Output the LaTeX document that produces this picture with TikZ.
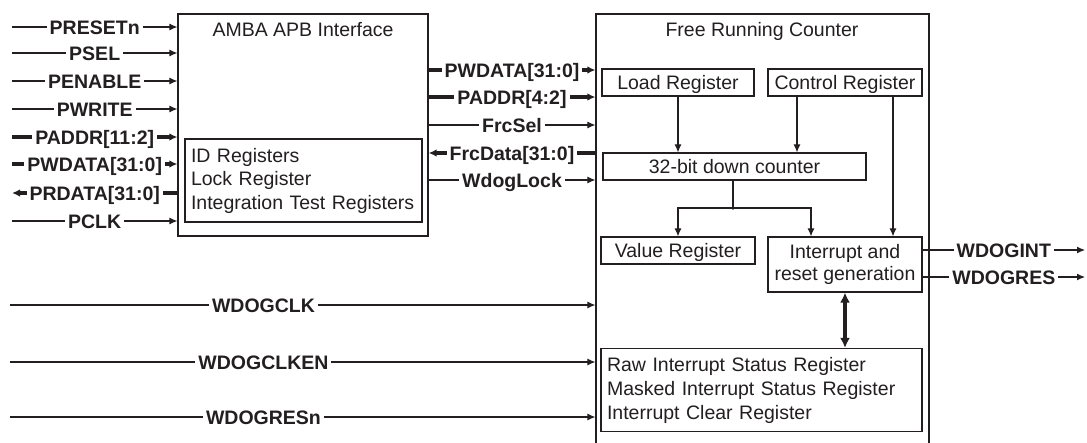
\documentclass[tikz,border=0pt]{standalone}
\usepackage{fontspec}
\setmainfont{Liberation Sans}
\usetikzlibrary{arrows.meta,calc}
\definecolor{ink}{HTML}{231F20}
\begin{document}
\begin{tikzpicture}[x=1pt,y=-1pt,
  font=\fontsize{19.5}{23.5}\selectfont, text=ink,
  box/.style={draw=ink, line width=1.2pt, inner sep=0pt},
  txt/.style={inner sep=0pt, text height=14pt, text depth=0pt},
  lbl/.style={fill=white, font=\fontsize{19.5}{23.5}\selectfont\bfseries, inner xsep=3pt, inner ysep=1pt, text height=14pt, text depth=0pt},
  ln/.style={draw=ink, line width=1.1pt},
  sig/.style={ln, -{Latex[length=8pt,width=7pt]}},
  bus/.style={draw=ink, line width=3.2pt, -{Latex[length=8pt,width=7.5pt]}},
  dbl/.style={draw=ink, line width=3.2pt, {Latex[length=10pt,width=10pt]}-{Latex[length=10pt,width=10pt]}}
]
\useasboundingbox (0,0) rectangle (1087,442);
\fill[white] (0,0) rectangle (1087,442);
\clip (0,0) rectangle (1087,442);

% ---- AMBA APB interface
\node[box, minimum width=250pt, minimum height=222pt] (apb) at (303,125) {};
\node[txt] (apbt) at (303,29) {AMBA APB Interface};
\node[box, minimum width=237pt, minimum height=83pt, text width=225pt, align=left, inner xsep=6pt,
      font=\fontsize{19.5}{23.5}\selectfont] (idr) at (303.5,180.5)
  {ID Registers\\Lock Register\\Integration Test Registers};

% ---- Free running counter
\node[box, minimum width=333pt, minimum height=446pt] (frc) at (762.5,237) {};
\node[txt] (frct) at (762,29) {Free Running Counter};
\node[box, txt, minimum width=152pt, minimum height=27pt] (load) at (678,82.5) {Load Register};
\node[box, txt, minimum width=154pt, minimum height=27pt] (ctrl) at (845,82.5) {Control Register};
\node[box, txt, minimum width=263pt, minimum height=27pt] (cnt) at (734.5,166.5) {32-bit down counter};
\node[box, txt, minimum width=154pt, minimum height=27pt] (val) at (678,250.5) {Value Register};
\node[box, minimum width=154pt, minimum height=55pt, align=center,
      font=\fontsize{19.5}{22}\selectfont] (intr) at (845,264.5) {Interrupt and\\reset generation};
\node[box, minimum width=321pt, minimum height=83pt, text width=309pt, align=left, inner xsep=6pt,
      font=\fontsize{19.5}{24}\selectfont] (bot) at (761.5,390)
  {Raw Interrupt Status Register\\Masked Interrupt Status Register\\Interrupt Clear Register};

% ---- internal connections
\coordinate (xa) at (797,0);
\coordinate (xb) at (893,0);
\coordinate (xc) at (811,0);
\coordinate (jn) at (733,208);
\draw[sig] (load.south) -- (load.south |- cnt.north);
\draw[sig] (ctrl.south -| xa) -- (cnt.north -| xa);
\draw[sig] (ctrl.south -| xb) -- (intr.north -| xb);
\draw[ln] (cnt.south -| jn) -- (jn);
\draw[sig] (jn) -| (val.north);
\draw[sig] (jn) -| (intr.north -| xc);
\fill[ink] (jn) circle (1.8pt);
\draw[dbl] (intr.south) -- (intr.south |- bot.north);

% ---- left signals
\coordinate (l1) at (12,27);
\coordinate (l2) at (12,53);
\coordinate (l3) at (12,81);
\coordinate (l4) at (12,109);
\coordinate (l5) at (12,137);
\coordinate (l6) at (12,164);
\coordinate (l7) at (12,193);
\coordinate (l8) at (12,221);
\draw[sig] (l1) -- node[lbl] (s1) {PRESETn} (apb.west |- l1);
\draw[sig] (l2) -- node[lbl] (s2) {PSEL} (apb.west |- l2);
\draw[sig] (l3) -- node[lbl] (s3) {PENABLE} (apb.west |- l3);
\draw[sig] (l4) -- node[lbl] (s4) {PWRITE} (apb.west |- l4);
\draw[bus] (l5) -- node[lbl] (s5) {PADDR[11:2]} (apb.west |- l5);
\draw[bus] (l6) -- node[lbl] (s6) {PWDATA[31:0]} (apb.west |- l6);
\draw[bus] (apb.west |- l7) -- node[lbl] (s7) {PRDATA[31:0]} (l7);
\draw[sig] (l8) -- node[lbl] (s8) {PCLK} (apb.west |- l8);

% ---- middle signals
\coordinate (m1) at (0,70);
\coordinate (m2) at (0,97);
\coordinate (m3) at (0,125);
\coordinate (m4) at (0,153);
\coordinate (m5) at (0,180);
\draw[bus] (apb.east |- m1) -- node[lbl] (t1) {PWDATA[31:0]} (frc.west |- m1);
\draw[bus] (apb.east |- m2) -- node[lbl] (t2) {PADDR[4:2]} (frc.west |- m2);
\draw[sig] (apb.east |- m3) -- node[lbl] (t3) {FrcSel} (frc.west |- m3);
\draw[bus] (frc.west |- m4) -- node[lbl] (t4) {FrcData[31:0]} (apb.east |- m4);
\draw[sig] (apb.east |- m5) -- node[lbl] (t5) {WdogLock} (frc.west |- m5);

% ---- bottom signals
\coordinate (b1) at (10,305);
\coordinate (b2) at (10,362);
\coordinate (b3) at (10,417);
\draw[sig] (b1) -- node[lbl, pos=0.433] (w1) {WDOGCLK} (frc.west |- b1);
\draw[sig] (b2) -- node[lbl, pos=0.433] (w2) {WDOGCLKEN} (frc.west |- b2);
\draw[sig] (b3) -- node[lbl, pos=0.433] (w3) {WDOGRESn} (frc.west |- b3);

% ---- outputs
\coordinate (r1) at (1085,250);
\coordinate (r2) at (1085,277);
\draw[sig] (intr.east |- r1) -- node[lbl] (o1) {WDOGINT} (r1);
\draw[sig] (intr.east |- r2) -- node[lbl] (o2) {WDOGRES} (r2);
\end{tikzpicture}
\end{document}
